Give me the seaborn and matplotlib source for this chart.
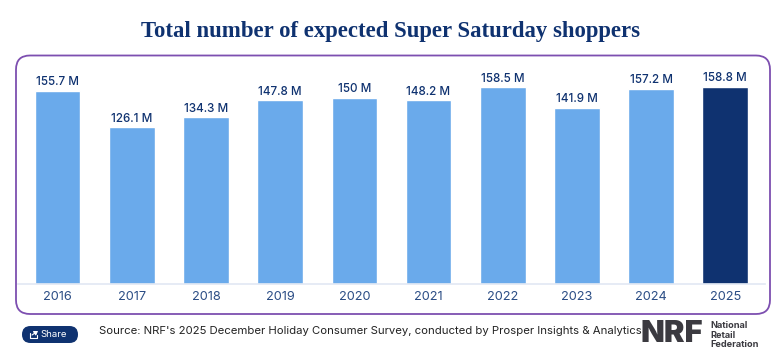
import pandas as pd
import seaborn as sns
import matplotlib.pyplot as plt
from matplotlib.patches import FancyBboxPatch

# Data
YEARS = ['2016', '2017', '2018', '2019', '2020', '2021', '2022', '2023', '2024', '2025']
SHOPPERS = [155.7, 126.1, 134.3, 147.8, 150, 148.2, 158.5, 141.9, 157.2, 158.8]
BAR_LABELS = ['155.7 M', '126.1 M', '134.3 M', '147.8 M', '150 M',
              '148.2 M', '158.5 M', '141.9 M', '157.2 M', '158.8 M']

TITLE = 'Total number of expected Super Saturday shoppers'
SOURCE = "Source: NRF's 2025 December Holiday Consumer Survey, conducted by Prosper Insights & Analytics"

NAVY = '#0f3270'
LIGHT = '#6aaaeb'
W, H = 780, 360

sns.set_theme(style='white')
plt.rcParams['font.family'] = ['Inter', 'DejaVu Sans']

fig = plt.figure(figsize=(W / 100, H / 100), dpi=100, facecolor='white')

# Rounded purple frame around the chart, in pixel coordinates
bg = fig.add_axes([0, 0, 1, 1])
bg.set_xlim(0, W)
bg.set_ylim(H, 0)
bg.axis('off')
bg.add_patch(FancyBboxPatch((16, 55.5), 754, 258.5, boxstyle='round,pad=0,rounding_size=14',
                            fc='white', ec='#7d4fb0', lw=1.3))

# Axes placed so the baseline sits at y=284
ax = fig.add_axes([18.3 / W, 1 - 283.6 / H, 747 / W, 230 / H])
ax.patch.set_alpha(0)
df = pd.DataFrame({'year': YEARS, 'shoppers': SHOPPERS})
colors = [NAVY if y == '2025' else LIGHT for y in YEARS]
sns.barplot(data=df, x='year', y='shoppers', hue='year', palette=colors, legend=False,
            width=0.615, saturation=1, ax=ax)
ax.set_xlim(-0.53, 9.54)
ax.set_ylim(0, 185.5)
ax.set_xlabel('')
ax.set_ylabel('')
ax.set_yticks([])
for c, lab in zip(ax.containers, BAR_LABELS):
    ax.bar_label(c, labels=[lab], padding=1.6, fontsize=8.4, color=NAVY, fontweight='medium')
ax.tick_params(axis='x', length=0, pad=5, labelsize=9.2, labelcolor='#2b4d85')
sns.despine(ax=ax, left=True, right=True, top=True)
ax.spines['bottom'].set_color('#e1e8f3')
ax.spines['bottom'].set_linewidth(1.2)

# Title
bg.text(390.5, 32, TITLE, ha='center', va='center', fontsize=16.4, fontweight='bold',
        color=NAVY, family=['Liberation Serif', 'DejaVu Serif'])

# Share button
bg.add_patch(FancyBboxPatch((22, 326), 56, 17, boxstyle='round,pad=0,rounding_size=8.5',
                            fc=NAVY, ec='none'))
bg.plot([30, 30, 37, 37], [333, 338, 338, 335], color='white', lw=0.8)
bg.annotate('', xy=(38, 331), xytext=(32, 335),
            arrowprops=dict(arrowstyle='-|>,head_width=0.12,head_length=0.18', color='white', lw=0.8,
                            shrinkA=0, shrinkB=0))
bg.text(54, 334.8, 'Share', ha='center', va='center', fontsize=6.9, color='white')

# Source line
bg.text(99, 330.5, SOURCE, ha='left', va='center', fontsize=8.16, color='#222222')

# NRF logo as text
bg.text(641, 334, 'NRF', ha='left', va='center', fontsize=22.2, fontweight='black',
        color='#3b3a40', family=['Inter', 'DejaVu Sans'])
for y, word in zip([326, 335.5, 344.5], ['National', 'Retail', 'Federation']):
    bg.text(710, y, word, ha='left', va='center', fontsize=6.6, fontweight='bold', color='#3b3a40')

fig.savefig('out.png', dpi=100)
